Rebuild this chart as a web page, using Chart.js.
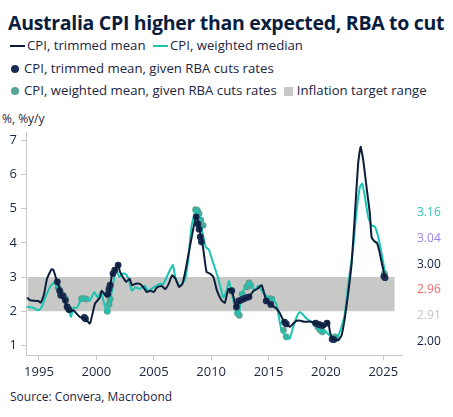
<!DOCTYPE html>
<html>
<head>
<meta charset="utf-8">
<script src="https://cdn.jsdelivr.net/npm/chart.js@4.4.1/dist/chart.umd.min.js"></script>
<style>
  html, body { margin: 0; padding: 0; background: #fff; }
  #wrap { position: relative; width: 453px; height: 417px; overflow: hidden; font-family: "Open Sans", sans-serif; color: #1c2541; }
  #title { position: absolute; left: 8px; top: 9px; font-size: 19.5px; font-weight: 700; color: #0b1d3e; white-space: nowrap; letter-spacing: -0.3px; }
  .row { position: absolute; left: 0; font-size: 13.2px; white-space: nowrap; }
  .sw-line { display: inline-block; width: 15px; height: 2px; vertical-align: middle; margin: 0 2px 0 10px; }
  .sw-dot { display: inline-block; width: 8px; height: 8px; border-radius: 50%; vertical-align: middle; margin: 0 5px 0 11px; }
  .sw-box { display: inline-block; width: 9px; height: 9px; vertical-align: middle; margin: 0 4px 0 7px; }
  #ylab { position: absolute; left: 2px; top: 110px; font-size: 12px; }
  #source { position: absolute; left: 10px; top: 388px; font-size: 12px; }
  #cv { position: absolute; left: 0; top: 100px; }
</style>
</head>
<body>
<div id="wrap">
  <div id="title">Australia CPI higher than expected, RBA to cut</div>
  <div class="row" style="top:36px"><span class="sw-line" style="background:#0c1d3b"></span>CPI, trimmed mean <span class="sw-line" style="background:#19c5b3;margin-left:4px"></span>CPI, weighted median</div>
  <div class="row" style="top:59px"><span class="sw-dot" style="background:#1b2c52"></span>CPI, trimmed mean, given RBA cuts rates</div>
  <div class="row" style="top:81px"><span class="sw-dot" style="background:#55a594"></span>CPI, weighted mean, given RBA cuts rates<span class="sw-box" style="background:#c8c8c8"></span>Inflation target range</div>
  <div id="ylab">%, %y/y</div>
  <div id="source">Source: Convera, Macrobond</div>
  <canvas id="cv" width="453" height="285"></canvas>
</div>
<script>
// Series: [decimal year, %y/y]
const trimmedMean = [
  [1993.98, 2.40], [1994.22, 2.32], [1994.94, 2.30], [1995.15, 2.25], [1995.44, 2.50], [1995.70, 2.95],
  [1996.10, 3.23], [1996.26, 3.20], [1996.54, 2.91], [1996.77, 2.71], [1996.98, 2.42], [1997.26, 2.32],
  [1997.41, 2.13], [1997.70, 1.98], [1997.99, 2.03], [1998.28, 1.93], [1998.57, 1.83], [1999.00, 1.79],
  [1999.44, 1.64], [1999.88, 2.22], [2000.31, 2.40], [2000.46, 2.60], [2000.90, 2.42], [2001.10, 2.50],
  [2001.35, 3.05], [2001.62, 3.20], [2001.90, 3.37], [2002.06, 3.15], [2002.60, 2.86], [2002.90, 2.95],
  [2003.10, 2.76], [2003.40, 2.80], [2003.80, 2.80], [2004.10, 2.70], [2004.40, 2.56], [2004.70, 2.60],
  [2005.00, 2.56], [2005.30, 2.70], [2005.70, 2.74], [2006.00, 2.65], [2006.30, 2.80], [2006.60, 3.05],
  [2006.90, 2.95], [2007.20, 2.71], [2007.50, 2.80], [2007.80, 3.25], [2008.20, 3.98], [2008.70, 4.80],
  [2008.95, 4.45], [2009.30, 3.85], [2009.60, 3.15], [2009.90, 3.10], [2010.20, 3.00], [2010.50, 2.61],
  [2010.90, 2.32], [2011.20, 2.25], [2011.50, 2.65], [2011.80, 2.61], [2012.20, 2.10], [2012.50, 2.30],
  [2012.90, 2.37], [2013.30, 2.42], [2013.70, 2.60], [2014.00, 2.65], [2014.40, 2.76], [2014.80, 2.32],
  [2015.27, 2.18], [2015.70, 2.08], [2016.00, 1.93], [2016.28, 1.74], [2016.58, 1.64], [2016.86, 1.54],
  [2017.15, 1.64], [2017.45, 1.72], [2017.80, 1.72], [2018.10, 1.69], [2018.50, 1.70], [2018.90, 1.68],
  [2019.20, 1.64], [2019.60, 1.60], [2019.90, 1.54], [2020.20, 1.69], [2020.35, 1.40], [2020.60, 1.20],
  [2021.07, 1.15], [2021.37, 1.30], [2021.66, 1.83], [2021.94, 2.52], [2022.24, 3.39], [2022.53, 4.86],
  [2022.81, 6.32], [2023.02, 6.81], [2023.25, 6.42], [2023.54, 5.63], [2023.83, 4.86], [2023.98, 4.17],
  [2024.27, 4.03], [2024.44, 4.00], [2024.64, 3.78], [2024.85, 3.44], [2025.14, 3.00]
];

const weightedMedian = [
  [1993.93, 2.13], [1994.50, 2.10], [1994.94, 2.03], [1995.20, 2.10], [1995.60, 2.45], [1995.96, 2.71],
  [1996.39, 2.86], [1996.60, 2.70], [1996.98, 2.47], [1997.20, 2.30], [1997.50, 2.10], [1997.79, 1.83],
  [1998.00, 2.10], [1998.30, 2.10], [1998.72, 2.37], [1999.10, 2.37], [1999.40, 2.30], [1999.82, 2.56],
  [2000.10, 2.40], [2000.40, 2.56], [2000.84, 2.03], [2001.00, 1.97], [2001.20, 2.30], [2001.62, 3.10],
  [2001.75, 3.20], [2002.00, 3.00], [2002.30, 3.10], [2002.50, 3.10], [2002.80, 2.95], [2003.10, 2.60],
  [2003.40, 2.70], [2003.80, 2.65], [2004.20, 2.75], [2004.50, 2.60], [2005.00, 2.70], [2005.50, 2.80],
  [2005.83, 2.80], [2006.41, 3.20], [2006.67, 3.35], [2006.93, 2.90], [2007.28, 2.75], [2007.70, 2.90],
  [2008.00, 3.49], [2008.30, 4.50], [2008.68, 4.97], [2008.94, 4.85], [2009.24, 4.32], [2009.52, 3.88],
  [2009.80, 3.80], [2010.20, 3.39], [2010.62, 2.96], [2011.06, 2.40], [2011.35, 2.60], [2011.55, 2.88],
  [2011.80, 2.50], [2012.10, 2.10], [2012.40, 1.88], [2012.65, 2.50], [2013.10, 2.75], [2013.40, 2.83],
  [2013.80, 2.60], [2014.10, 2.75], [2014.50, 2.55], [2014.80, 2.45], [2015.10, 2.37], [2015.40, 2.35],
  [2015.70, 2.20], [2016.10, 1.49], [2016.60, 1.20], [2016.85, 1.20], [2017.15, 1.54], [2017.45, 1.83],
  [2017.74, 1.98], [2018.00, 1.90], [2018.30, 1.79], [2018.70, 1.70], [2019.20, 1.54], [2019.60, 1.40],
  [2019.90, 1.44], [2020.30, 1.30], [2020.80, 1.20], [2021.10, 1.30], [2021.60, 1.83], [2021.95, 2.81],
  [2022.35, 3.78], [2022.65, 4.86], [2022.96, 5.63], [2023.16, 5.73], [2023.40, 5.34], [2023.68, 4.76],
  [2023.98, 4.51], [2024.27, 4.47], [2024.56, 4.17], [2024.85, 3.69], [2025.14, 3.15]
];

// Readings at the dates the RBA cut rates
const trimmedCuts = [
  [1996.60, 2.86], [1996.80, 2.60], [1996.90, 2.47], [1997.10, 2.45], [1997.30, 2.32], [1997.45, 2.13],
  [1997.60, 2.05], [1998.95, 1.82], [1999.05, 1.78], [2001.00, 2.50], [2001.10, 2.65], [2001.20, 2.76],
  [2001.45, 3.10], [2001.60, 3.20], [2001.90, 3.35], [2008.70, 4.76], [2008.85, 4.55], [2008.95, 4.40],
  [2009.05, 4.17], [2009.15, 4.03], [2011.80, 2.60], [2012.20, 2.12], [2012.40, 2.30], [2012.55, 2.32],
  [2012.75, 2.35], [2012.90, 2.37], [2013.10, 2.40], [2013.30, 2.42], [2014.80, 2.30], [2015.20, 2.20],
  [2016.40, 1.68], [2016.55, 1.63], [2019.10, 1.65], [2019.30, 1.62], [2019.50, 1.60], [2019.70, 1.58],
  [2020.10, 1.65], [2020.55, 1.18], [2020.70, 1.17], [2025.05, 3.02], [2025.15, 2.98]
];

const weightedCuts = [
  [1996.65, 2.70], [1996.90, 2.55], [1997.10, 2.45], [1997.30, 2.35], [1998.70, 2.37], [1998.90, 2.37],
  [1999.10, 2.36], [2000.95, 2.00], [2001.10, 2.20], [2001.20, 2.35], [2008.65, 4.97], [2008.80, 4.95],
  [2008.95, 4.85], [2009.10, 4.66], [2009.30, 4.51], [2012.30, 1.95], [2012.45, 1.88], [2012.70, 2.50],
  [2013.10, 2.71], [2013.30, 2.83], [2013.45, 2.75], [2015.10, 2.37], [2015.30, 2.35], [2016.30, 1.44],
  [2016.55, 1.25], [2019.30, 1.54], [2019.50, 1.45], [2019.70, 1.40], [2020.80, 1.25], [2020.90, 1.22],
  [2025.10, 3.10]
];

const targetBand = { from: 1994.0, to: 2026.0, low: 2, high: 3 };

const xTicks = [1995, 2000, 2005, 2010, 2015, 2020, 2025];
const yTicks = [1, 2, 3, 4, 5, 6, 7];

const endLabels = ['3.16', '3.04', '3.00', '2.96', '2.91', '2.00'];
const endColors = ['#2ec4b6', '#9a80f2', '#0d1f3c', '#f06a6a', '#c6c6c6', '#0d1f3c'];

const toPts = arr => arr.map(p => ({ x: p[0], y: p[1] }));
const axisGrey = '#c9c9c9';
const textNavy = '#1c2541';

const endLabelPlugin = {
  id: 'endLabels',
  afterDraw(chart) {
    const ctx = chart.ctx;
    const area = chart.chartArea;
    ctx.save();
    ctx.font = '12px "Open Sans", sans-serif';
    ctx.textBaseline = 'middle';
    ctx.textAlign = 'left';
    endLabels.forEach((t, i) => {
      ctx.fillStyle = endColors[i];
      ctx.fillText(t, area.right + 15, area.top + 80.5 + i * 25.8);
    });
    ctx.restore();
  }
};

new Chart(document.getElementById('cv'), {
  type: 'line',
  data: {
    datasets: [
      {
        label: 'Inflation target range',
        data: [{ x: targetBand.from, y: targetBand.high }, { x: targetBand.to, y: targetBand.high }],
        borderWidth: 0,
        pointRadius: 0,
        backgroundColor: '#c8c9c7',
        fill: { value: targetBand.low },
        order: 10
      },
      {
        label: 'CPI, weighted mean, given RBA cuts rates',
        type: 'scatter',
        data: toPts(weightedCuts),
        pointRadius: 3.4,
        pointBackgroundColor: '#55a594',
        pointBorderWidth: 0,
        order: 9
      },
      {
        label: 'CPI, weighted median',
        data: toPts(weightedMedian),
        borderColor: '#19c5b3',
        borderWidth: 2,
        pointRadius: 0,
        tension: 0.15,
        fill: false,
        order: 8
      },
      {
        label: 'CPI, trimmed mean, given RBA cuts rates',
        type: 'scatter',
        data: toPts(trimmedCuts),
        pointRadius: 3.4,
        pointBackgroundColor: '#1b2c52',
        pointBorderWidth: 0,
        order: 7
      },
      {
        label: 'CPI, trimmed mean',
        data: toPts(trimmedMean),
        borderColor: '#0c1d3b',
        borderWidth: 2,
        pointRadius: 0,
        tension: 0.15,
        fill: false,
        order: 6
      }
    ]
  },
  options: {
    responsive: false,
    animation: false,
    layout: { padding: { top: 32, right: 51, bottom: 0, left: 0 } },
    plugins: {
      legend: { display: false },
      title: { display: false },
      tooltip: { enabled: false }
    },
    scales: {
      x: {
        type: 'linear',
        min: 1993.87,
        max: 2026.63,
        afterBuildTicks: s => { s.ticks = xTicks.map(v => ({ value: v })); },
        afterFit: s => { s.height = 30; },
        grid: { drawOnChartArea: false, drawTicks: true, tickLength: 5, color: axisGrey },
        border: { display: true, color: axisGrey, width: 1 },
        ticks: { color: textNavy, font: { family: '"Open Sans", sans-serif', size: 13 }, padding: 4, maxRotation: 0, callback: v => String(v) }
      },
      y: {
        type: 'linear',
        min: 0.72,
        max: 7.24,
        afterBuildTicks: s => { s.ticks = yTicks.map(v => ({ value: v })); },
        afterFit: s => { s.width = 26; },
        grid: { drawOnChartArea: false, drawTicks: true, tickLength: 5, color: axisGrey },
        border: { display: true, color: axisGrey, width: 1 },
        ticks: { color: textNavy, font: { family: '"Open Sans", sans-serif', size: 13 }, padding: 4, callback: v => String(v) }
      }
    }
  },
  plugins: [endLabelPlugin]
});
</script>
</body>
</html>
